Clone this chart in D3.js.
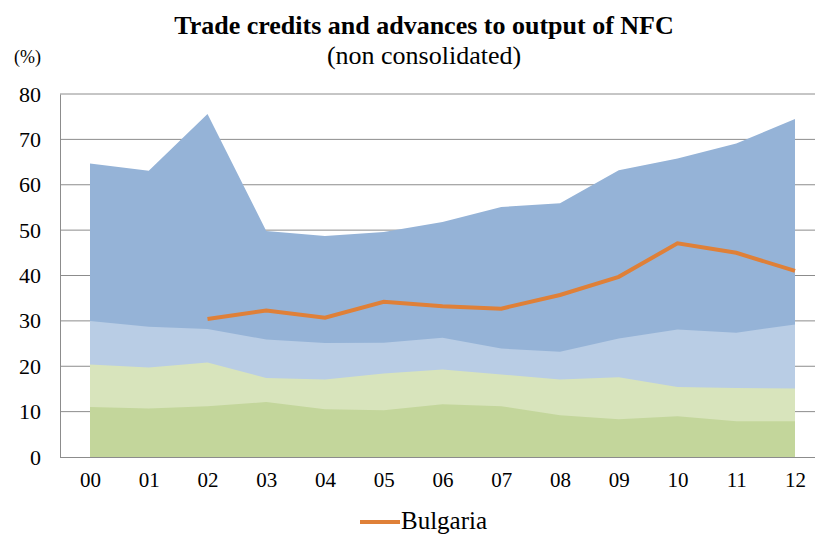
<!DOCTYPE html>
<html>
<head>
<meta charset="utf-8">
<script src="https://cdn.jsdelivr.net/npm/d3@7"></script>
<style>
  body { margin: 0; background: #fff; }
  svg text { font-family: "Liberation Serif", "DejaVu Serif", serif !important; fill: #000; }
</style>
</head>
<body>
<svg id="chart" width="815" height="535"></svg>
<script>
const years = ['00', '01', '02', '03', '04', '05', '06', '07', '08', '09', '10', '11', '12'];
// upper edge of each band
const band1 = [11.0, 10.7, 11.2, 12.1, 10.5, 10.3, 11.6, 11.2, 9.2, 8.3, 9.0, 7.9, 7.9];
const band2 = [20.4, 19.7, 20.8, 17.4, 17.1, 18.4, 19.3, 18.2, 17.1, 17.6, 15.4, 15.2, 15.1];
const band3 = [30.0, 28.7, 28.2, 25.9, 25.1, 25.2, 26.3, 23.9, 23.2, 26.1, 28.1, 27.4, 29.2];
const band4 = [64.7, 63.1, 75.6, 49.8, 48.7, 49.6, 51.8, 55.1, 55.9, 63.2, 65.8, 69.1, 74.5];
const bulgaria = [null, null, 30.4, 32.3, 30.7, 34.2, 33.2, 32.7, 35.7, 39.7, 47.1, 45.0, 41.0];
const yTicks = [0, 10, 20, 30, 40, 50, 60, 70, 80];

const svg = d3.select('#chart');
const plotLeft = 60, plotRight = 815, plotTop = 94, plotBottom = 457;

const x = d3.scalePoint()
  .domain(years)
  .range([90, 795]);

const y = d3.scaleLinear()
  .domain([0, 80])
  .range([plotBottom, plotTop]);

// gridlines
svg.append('g')
  .selectAll('line')
  .data(yTicks.slice(1))
  .enter()
  .append('line')
  .attr('x1', plotLeft)
  .attr('x2', plotRight)
  .attr('y1', d => y(d))
  .attr('y2', d => y(d))
  .attr('stroke', '#8c8c8c')
  .attr('stroke-width', 1);

// bands, drawn from the top one down so lower ones sit over it
const bands = [
  { values: band4, color: '#95b3d7' },
  { values: band3, color: '#b9cde5' },
  { values: band2, color: '#d8e4bc' },
  { values: band1, color: '#c3d69b' }
];

const area = d3.area()
  .x((d, i) => x(years[i]))
  .y0(y(0))
  .y1(d => y(d));

bands.forEach(b => {
  svg.append('path')
    .datum(b.values)
    .attr('fill', b.color)
    .attr('d', area);
});

// axes
const yAxis = d3.axisLeft(y)
  .tickValues(yTicks)
  .tickSize(0)
  .tickPadding(19);

svg.append('g')
  .attr('transform', `translate(${plotLeft}, 0)`)
  .call(yAxis)
  .call(g => g.select('.domain').attr('stroke', '#8c8c8c'))
  .call(g => g.selectAll('text').style('font-size', '22px'));

const xAxis = d3.axisBottom(x)
  .tickSize(0)
  .tickPadding(15);

svg.append('g')
  .attr('transform', `translate(0, ${plotBottom})`)
  .call(xAxis)
  .call(g => g.select('.domain').attr('d', `M${plotLeft},0.5H${plotRight}`).attr('stroke', '#8c8c8c'))
  .call(g => g.selectAll('text').style('font-size', '21px'));

// Bulgaria line
const line = d3.line()
  .defined(d => d !== null)
  .x((d, i) => x(years[i]))
  .y(d => y(d));

svg.append('path')
  .datum(bulgaria)
  .attr('fill', 'none')
  .attr('stroke', '#df8038')
  .attr('stroke-width', 4)
  .attr('d', line);

// titles
svg.append('text')
  .attr('x', 424)
  .attr('y', 34)
  .attr('text-anchor', 'middle')
  .style('font-size', '26px')
  .style('font-weight', 'bold')
  .text('Trade credits and advances to output of NFC');

svg.append('text')
  .attr('x', 424)
  .attr('y', 64)
  .attr('text-anchor', 'middle')
  .style('font-size', '26px')
  .text('(non consolidated)');

svg.append('text')
  .attr('x', 14)
  .attr('y', 63)
  .style('font-size', '18px')
  .text('(%)');

// legend
svg.append('line')
  .attr('x1', 360)
  .attr('x2', 400)
  .attr('y1', 522)
  .attr('y2', 522)
  .attr('stroke', '#df8038')
  .attr('stroke-width', 4);

svg.append('text')
  .attr('x', 401)
  .attr('y', 529)
  .style('font-size', '25px')
  .text('Bulgaria');
</script>
</body>
</html>
